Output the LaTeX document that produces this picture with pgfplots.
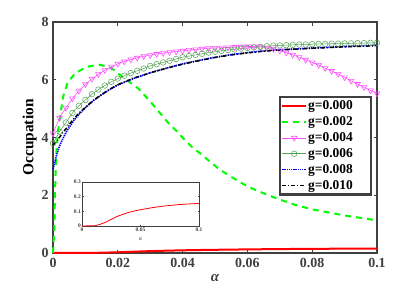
\documentclass[border=0pt]{standalone}
\usepackage{pgfplots}
\pgfplotsset{compat=1.18}
\usepackage{fontspec}
\setmainfont{Liberation Serif}
\definecolor{axgray}{RGB}{64,64,64}
\definecolor{cgreen}{RGB}{0,255,0}
\definecolor{cmag}{RGB}{255,80,255}
\definecolor{ccirc}{RGB}{80,160,80}
\newcommand{\lent}[1]{\makebox[60bp][l]{#1}}
\begin{document}
\begin{tikzpicture}
\begin{axis}[
  name=main, at={(0,0)}, anchor=south west,
  scale only axis, width=324bp, height=231bp,
  xmin=0, xmax=0.1, ymin=0, ymax=8,
  clip=false,
  axis line style={axgray, line width=2.2bp},
  every tick/.style={axgray, line width=1.4bp},
  major tick length=3.5bp,
  tick align=inside,
  xtick={0,0.02,0.04,0.06,0.08,0.1},
  xticklabels={0,0.02,0.04,0.06,0.08,0.1},
  ytick={0,2,4,6,8},
  yticklabels={0,2,4,6,8},
  /pgf/number format/assume math mode=true,
  ticklabel style={font=\fontsize{14}{16}\selectfont\bfseries, text=axgray},
  xticklabel style={yshift=-2bp},
  yticklabel style={xshift=-1bp},
  xlabel={\fontsize{15}{17}\selectfont\bfseries\itshape α},
  xlabel style={text=axgray, yshift=0bp},
  ylabel={\fontsize{15.5}{17}\selectfont\bfseries Occupation},
  ylabel style={yshift=-2bp},
  legend style={at={(0.984,0.68)}, anchor=north east,
    draw=axgray, line width=2.2bp, fill=white,
    font=\fontsize{13.5}{14}\selectfont\bfseries,
    row sep=1.4bp, inner xsep=1.5bp, inner ysep=2bp,
    nodes={inner xsep=1bp}},
  legend cell align=left,
  legend image code/.code={\draw[mark repeat=2,mark phase=2,#1] plot coordinates {(0bp,0bp) (12bp,0bp) (24bp,0bp)};},
]
% g=0.000
\addplot[red, line width=2bp] coordinates {
(0,0)(0.005,0.001)(0.011,0.002)(0.015,0.01)(0.02,0.025)(0.025,0.045)(0.03,0.065)(0.035,0.08)(0.04,0.093)(0.045,0.103)(0.05,0.111)(0.06,0.125)(0.07,0.136)(0.08,0.144)(0.09,0.15)(0.1,0.154)};
\addlegendentry{\lent{g=0.000}}
% g=0.002
\addplot[cgreen, line width=2bp, dash pattern=on 6bp off 5bp] coordinates {
(0,0)(0.0004,0.8)(0.0006,2.0)(0.0008,2.8)(0.0011,3.6)(0.0016,4.25)(0.0022,4.75)(0.0032,5.45)(0.0045,5.9)(0.0068,6.22)(0.0104,6.45)(0.0145,6.52)(0.0181,6.4)(0.0212,6.12)(0.0263,5.7)(0.03,5.25)(0.033,4.85)(0.0356,4.5)(0.0382,4.22)(0.0402,3.97)(0.0428,3.68)(0.0454,3.45)(0.0485,3.16)(0.051,2.93)(0.0541,2.7)(0.0572,2.49)(0.0603,2.29)(0.0634,2.14)(0.0665,2.0)(0.07,1.85)(0.075,1.66)(0.08,1.51)(0.09,1.3)(0.1,1.13)};
\addlegendentry{\lent{g=0.002}}
% g=0.004
\addplot[cmag, line width=0.6bp, mark=triangle, mark size=3.2bp, mark options={rotate=180, solid, fill=none}] coordinates {
(0,4.14)(0.002,4.68)(0.004,5.03)(0.006,5.35)(0.008,5.62)(0.01,5.84)(0.012,6.03)(0.014,6.19)(0.016,6.33)(0.018,6.45)(0.02,6.55)(0.022,6.63)(0.024,6.7)(0.026,6.76)(0.028,6.81)(0.03,6.85)(0.032,6.89)(0.034,6.92)(0.036,6.95)(0.038,6.98)(0.04,7.0)(0.042,7.03)(0.044,7.05)(0.046,7.07)(0.048,7.09)(0.05,7.1)(0.052,7.11)(0.054,7.12)(0.056,7.13)(0.058,7.14)(0.06,7.15)(0.062,7.15)(0.064,7.14)(0.066,7.11)(0.068,7.07)(0.07,7.01)(0.072,6.94)(0.074,6.86)(0.076,6.78)(0.078,6.69)(0.08,6.6)(0.082,6.51)(0.084,6.4)(0.086,6.3)(0.088,6.2)(0.09,6.08)(0.092,5.96)(0.094,5.85)(0.096,5.74)(0.098,5.63)(0.1,5.52)};
\addlegendentry{\lent{g=0.004}}
% g=0.006
\addplot[ccirc, line width=0.5bp, mark=o, mark size=2.8bp, mark options={solid}] coordinates {
(0,3.8)(0.002,4.2)(0.004,4.52)(0.006,4.85)(0.008,5.1)(0.01,5.3)(0.012,5.5)(0.014,5.66)(0.016,5.8)(0.018,5.93)(0.02,6.04)(0.022,6.14)(0.024,6.23)(0.026,6.31)(0.028,6.39)(0.03,6.48)(0.032,6.54)(0.034,6.6)(0.036,6.66)(0.038,6.72)(0.04,6.78)(0.042,6.82)(0.044,6.86)(0.046,6.9)(0.048,6.94)(0.05,6.97)(0.052,7.0)(0.054,7.03)(0.056,7.05)(0.058,7.08)(0.06,7.1)(0.062,7.12)(0.064,7.14)(0.066,7.16)(0.068,7.18)(0.07,7.19)(0.072,7.2)(0.074,7.21)(0.076,7.22)(0.078,7.22)(0.08,7.23)(0.082,7.24)(0.084,7.24)(0.086,7.25)(0.088,7.25)(0.09,7.26)(0.092,7.26)(0.094,7.27)(0.096,7.27)(0.098,7.28)(0.1,7.28)};
\addlegendentry{\lent{g=0.006}}
% g=0.008
\addplot[blue, line width=1.6bp, dash pattern=on 1.3bp off 0.9bp] coordinates {
(0,2.9)(0.001,3.35)(0.002,3.7)(0.003,3.95)(0.004,4.17)(0.005,4.35)(0.0065,4.6)(0.008,4.8)(0.01,5.03)(0.0125,5.28)(0.015,5.48)(0.0175,5.66)(0.02,5.82)(0.025,6.05)(0.03,6.24)(0.035,6.4)(0.04,6.55)(0.045,6.67)(0.05,6.78)(0.055,6.87)(0.06,6.94)(0.065,7.0)(0.07,7.04)(0.08,7.1)(0.09,7.15)(0.1,7.2)};
\addlegendentry{\lent{g=0.008}}
% g=0.010
\addplot[black, line width=1.5bp, dash pattern=on 4bp off 2bp on 1bp off 2bp] coordinates {
(0,3.74)(0.001,3.85)(0.002,4.0)(0.003,4.17)(0.004,4.3)(0.005,4.45)(0.0065,4.66)(0.008,4.84)(0.01,5.05)(0.0125,5.29)(0.015,5.49)(0.0175,5.67)(0.02,5.83)(0.025,6.06)(0.03,6.24)(0.035,6.4)(0.04,6.54)(0.045,6.66)(0.05,6.77)(0.055,6.86)(0.06,6.93)(0.065,6.99)(0.07,7.03)(0.08,7.09)(0.09,7.14)(0.1,7.18)};
\addlegendentry{\lent{g=0.010}}
\end{axis}
% inset
\begin{axis}[
  at={(29bp,27bp)}, anchor=south west,
  scale only axis, width=117bp, height=44bp,
  xmin=0, xmax=0.1, ymin=0, ymax=0.3,
  axis background/.style={fill=white},
  axis line style={axgray, line width=0.6bp},
  every tick/.style={axgray, line width=0.4bp},
  major tick length=1.5bp,
  tick align=inside,
  xtick={0,0.05,0.1}, xticklabels={0,0.05,0.1},
  ytick={0,0.1,0.2,0.3}, yticklabels={0,0.1,0.2,0.3},
  /pgf/number format/assume math mode=true,
  ticklabel style={font=\fontsize{5.5}{6}\selectfont\bfseries, text=axgray, inner sep=1bp},
  xticklabel style={yshift=-1bp},
  xlabel={\fontsize{6}{7}\selectfont\itshape α},
  xlabel style={text=axgray, yshift=-1bp},
]
\addplot[red, line width=0.8bp] coordinates {
(0,0)(0.005,0.001)(0.011,0.002)(0.015,0.01)(0.02,0.025)(0.025,0.045)(0.03,0.065)(0.035,0.08)(0.04,0.093)(0.045,0.103)(0.05,0.111)(0.06,0.125)(0.07,0.136)(0.08,0.144)(0.09,0.15)(0.1,0.154)};
\end{axis}
\useasboundingbox (-53bp,-43bp) rectangle (363bp,253bp);
\end{tikzpicture}
\end{document}
